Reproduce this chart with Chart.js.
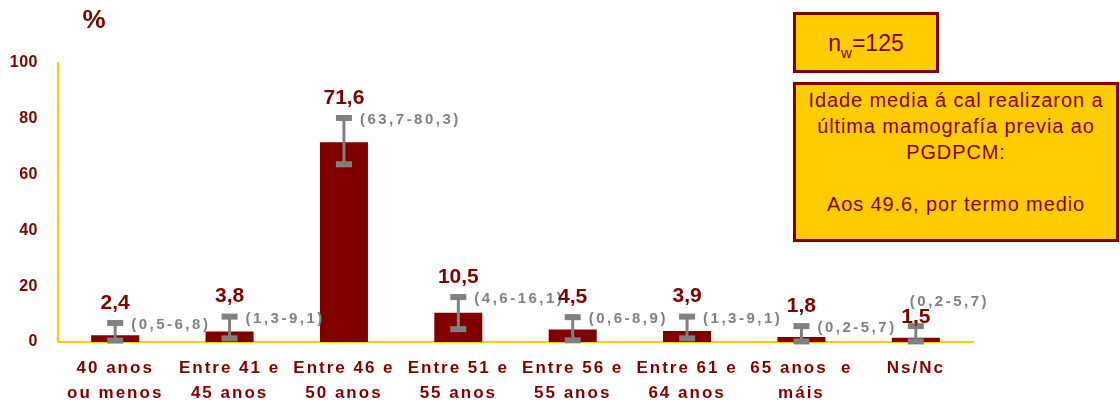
<!DOCTYPE html>
<html><head><meta charset="utf-8">
<script src="https://cdn.jsdelivr.net/npm/chart.js@4"></script>
<style>
html,body{margin:0;padding:0;background:#fff;}
#wrap{position:relative;width:1120px;height:403px;overflow:hidden;}
canvas{position:absolute;left:0;top:0;}
.box{position:absolute;background:#FFCC00;border:3px solid #800000;box-sizing:border-box;color:#800000;font-family:"Liberation Sans",Arial,sans-serif;text-align:center;}
sub{font-size:15px;line-height:0;vertical-align:-7px;}
</style></head><body>
<div id="wrap">
<canvas id="c" width="1120" height="403"></canvas>
<div class="box" style="left:793px;top:12px;width:146px;height:61px;font-size:23px;line-height:57px;">n<sub>w</sub>=125</div>
<div class="box" style="left:793px;top:82px;width:326px;height:160px;font-size:20px;line-height:26px;padding-top:2px;letter-spacing:0.9px;">Idade media á cal realizaron a<br>última mamografía previa ao<br>PGDPCM:<br><br>Aos 49.6, por termo medio</div>
</div>
<script>
const categories = [["40 anos","ou menos"],["Entre 41 e","45 anos"],["Entre 46 e","50 anos"],["Entre 51 e","55 anos"],["Entre 56 e","55 anos"],["Entre 61 e","64 anos"],["65 anos  e","máis"],["Ns/Nc"]];
const percentages = [2.4, 3.8, 71.6, 10.5, 4.5, 3.9, 1.8, 1.5];
const ciLower = [0.5, 1.3, 63.7, 4.6, 0.6, 1.3, 0.2, 0.2];
const ciUpper = [6.8, 9.1, 80.3, 16.1, 8.9, 9.1, 5.7, 5.7];
const yTicks = [0, 20, 40, 60, 80, 100];
const ciPlacement = ["right","right","right","right","right","right","right","above"];

const fmt = v => v.toFixed(1).replace('.', ',');
const DARK = '#800000', GREY = '#808080', GOLD = '#FFCC00';

const spacingPlugin = {
  id: 'spacing',
  afterLayout(chart) {
    for (const [id, sp] of [['x', '2px'], ['y', '0.5px']]) {
      const s = chart.scales[id];
      if (!s._wrapped) {
        const orig = s.drawLabels.bind(s);
        s.drawLabels = function (a) {
          const c = this.ctx; const prev = c.letterSpacing;
          c.letterSpacing = sp; orig(a); c.letterSpacing = prev;
        };
        s._wrapped = true;
      }
    }
  }
};

const errPlugin = {
  id: 'err',
  afterDatasetsDraw(chart) {
    const ctx = chart.ctx, y = chart.scales.y, meta = chart.getDatasetMeta(0);
    meta.data.forEach((bar, i) => {
      const x = bar.x, yl = y.getPixelForValue(ciLower[i]), yu = y.getPixelForValue(ciUpper[i]);
      ctx.save();
      ctx.strokeStyle = GREY; ctx.lineWidth = 3;
      ctx.beginPath(); ctx.moveTo(x, yl); ctx.lineTo(x, yu); ctx.stroke();
      ctx.fillStyle = GREY;
      ctx.fillRect(x - 8, yu - 3, 16, 6);
      ctx.fillRect(x - 8, yl - 3, 16, 6);
      const txt = '(' + fmt(ciLower[i]) + '-' + fmt(ciUpper[i]) + ')';
      ctx.font = 'bold 15px "Liberation Sans"';
      ctx.letterSpacing = '2.5px';
      ctx.textAlign = 'left'; ctx.textBaseline = 'middle';
      let lift = 20;
      if (ciPlacement[i] === 'above') { ctx.fillText(txt, x - 6, yu - 24); lift = 9; }
      else ctx.fillText(txt, x + 16, yu + 2);
      ctx.letterSpacing = '0px';
      ctx.font = 'bold 21px "Liberation Sans"';
      ctx.fillStyle = DARK; ctx.textAlign = 'center';
      ctx.fillText(fmt(percentages[i]), x, yu - lift);
      ctx.restore();
    });
  },
  afterDraw(chart) {
    const ctx = chart.ctx;
    ctx.save();
    ctx.font = 'bold 26px "Liberation Sans"';
    ctx.fillStyle = DARK; ctx.textAlign = 'center'; ctx.textBaseline = 'middle';
    ctx.fillText('%', chart.chartArea.left + 36, 21);
    ctx.restore();
  }
};

new Chart(document.getElementById('c'), {
  type: 'bar',
  data: { labels: categories, datasets: [{ data: percentages, backgroundColor: DARK, barPercentage: 0.42, categoryPercentage: 1 }] },
  options: {
    responsive: false, animation: false, events: [],
    layout: { padding: { top: 63, right: 147, left: 0, bottom: 0 } },
    plugins: { legend: { display: false }, tooltip: { enabled: false } },
    scales: {
      x: {
        grid: { display: false, drawTicks: false },
        border: { display: true, color: GOLD, width: 2 },
        ticks: { color: DARK, font: { family: 'Liberation Sans', size: 17, weight: 'bold', lineHeight: 1.47 }, padding: 14, maxRotation: 0, minRotation: 0, autoSkip: false },
        afterFit(s) { s.height = 61; }
      },
      y: {
        min: 0, max: 100,
        grid: { display: false, drawTicks: false },
        border: { display: true, color: GOLD, width: 2 },
        ticks: { color: DARK, font: { family: 'Liberation Sans', size: 16, weight: 'bold' }, padding: 20 },
        afterBuildTicks(s) { s.ticks = yTicks.map(v => ({ value: v })); },
        afterFit(s) { s.width = 58; }
      }
    }
  },
  plugins: [spacingPlugin, errPlugin]
});
</script>
</body></html>
